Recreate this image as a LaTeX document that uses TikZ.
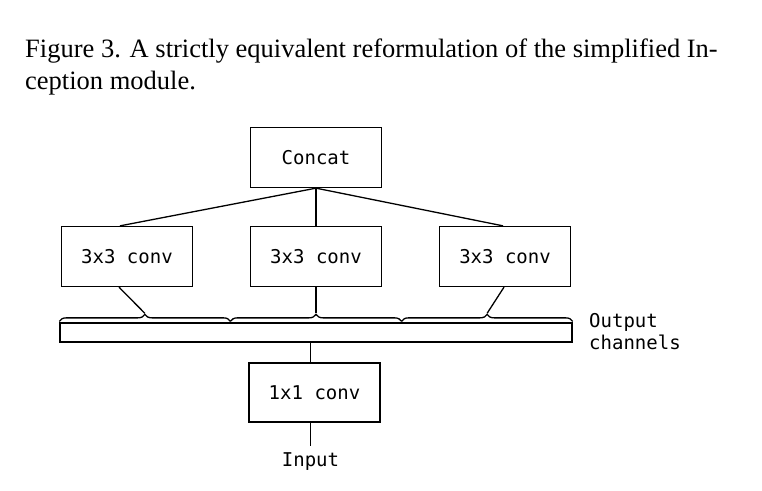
\documentclass[tikz,border=0pt]{standalone}
\usepackage{fontspec}
\setmainfont{Liberation Serif}
\setmonofont{DejaVu Sans Mono}
\usetikzlibrary{positioning, calc, decorations.pathreplacing}

\tikzset{
    box/.style={draw, line width=1.3pt, minimum width=131pt, minimum height=60pt,
        inner sep=0pt, font=\fontsize{19}{22}\selectfont\ttfamily},
    lbl/.style={inner sep=0pt, font=\fontsize{19}{22}\selectfont\ttfamily},
    wire/.style={line width=1.3pt},
    chbrace/.style={decorate, decoration={brace, amplitude=7pt}, line width=1.3pt}
}

\begin{document}
\begin{tikzpicture}[x=1pt, y=-1pt]
    \useasboundingbox (0,0) rectangle (762,490);

    % caption
    \node[anchor=base west, inner sep=0pt, font=\fontsize{26.5}{32}\selectfont] (cap1) at (25,57)
        {Figure 3. A strictly equivalent reformulation of the simplified In-};
    \node[anchor=base west, inner sep=0pt, font=\fontsize{26.5}{32}\selectfont] (cap2) at (25,89)
        {ception module.};

    \node[box] (concat) at (316,157.5) {Concat};
    \node[box] (c1) at (127,256.5) {3x3 conv};
    \node[box] (c2) at (316,256.5) {3x3 conv};
    \node[box] (c3) at (505,256.5) {3x3 conv};

    \node[draw, line width=1.3pt, minimum width=512pt, minimum height=19pt,
        inner sep=0pt] (bar) at (316,332.5) {};
    \node[lbl, align=left, anchor=west] (out) at (589,332) {Output\\channels};

    \node[box, minimum height=59pt] (one) at (314.5,392.5) {1x1 conv};
    \node[lbl] (in) at (310.5,462) {Input};

    % concat to the three convs
    \draw[wire] (concat.south) -- ([xshift=-7pt]c1.north);
    \draw[wire] (concat.south) -- (c2.north);
    \draw[wire] (concat.south) -- ([xshift=-2pt]c3.north);

    % braces over the channels
    \foreach \i in {0,1,2} {
        \draw[chbrace] ($(bar.north west)!{\i/3}!(bar.north east)+(0,-1)$)
            -- ($(bar.north west)!{(\i+1)/3}!(bar.north east)+(0,-1)$);
        \coordinate (tip\i) at ($(bar.north west)!{(2*\i+1)/6}!(bar.north east)+(0,-9)$);
    }
    \draw[wire] ([xshift=-8pt]c1.south) -- (tip0);
    \draw[wire] (c2.south) -- (tip1);
    \draw[wire] ([xshift=-1pt]c3.south) -- (tip2);

    % 1x1 conv
    \draw[wire] (bar.south -| in) -- (one.north -| in);
    \draw[wire] (one.south -| in) -- ([yshift=7pt]in.north);

\end{tikzpicture}
\end{document}
